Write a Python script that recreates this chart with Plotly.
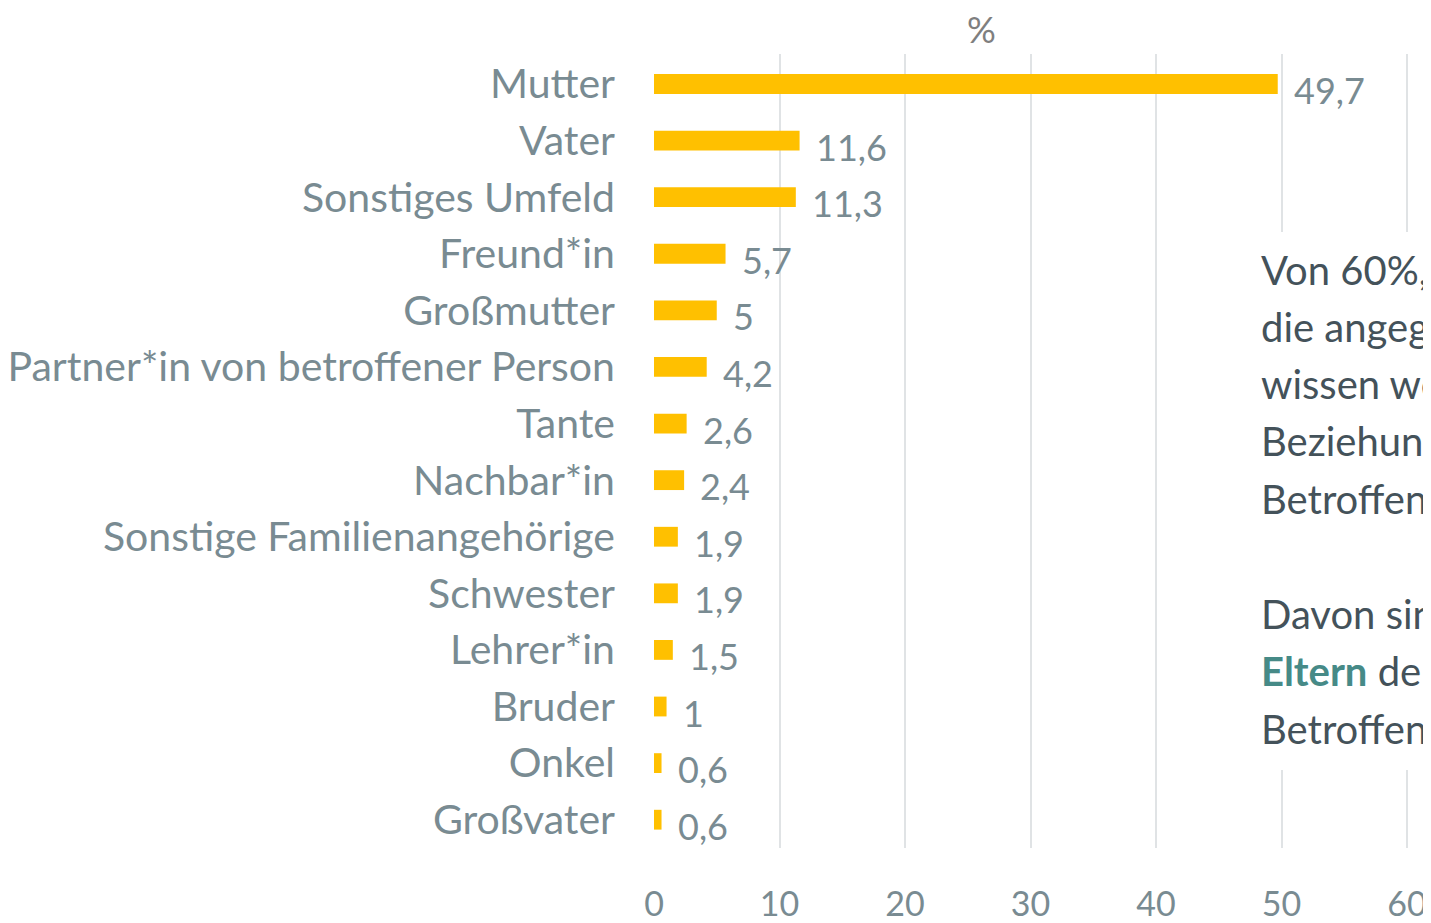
import plotly.graph_objects as go

categories = ["Mutter", "Vater", "Sonstiges Umfeld", "Freund*in", "Großmutter",
              "Partner*in von betroffener Person", "Tante", "Nachbar*in",
              "Sonstige Familienangehörige", "Schwester", "Lehrer*in", "Bruder",
              "Onkel", "Großvater"]
values = [49.7, 11.6, 11.3, 5.7, 5, 4.2, 2.6, 2.4, 1.9, 1.9, 1.5, 1, 0.6, 0.6]
value_labels = ["49,7", "11,6", "11,3", "5,7", "5", "4,2", "2,6", "2,4", "1,9",
                "1,9", "1,5", "1", "0,6", "0,6"]
x_ticks = [0, 10, 20, 30, 40, 50, 60]
note_lines = ["Von 60%, die Angaben machen,", "die angegeben haben, es zu",
              "wissen welche", "Beziehung sie zur", "Betroffenen Person haben:", "",
              "Davon sind 61% die",
              "<span style='color:#468a87'><b>Eltern</b></span> der",
              "Betroffenen Person."]

FONT = "Lato"
LABEL_COLOR = "#798b92"
BAR_COLOR = "#FFC000"

# page offset (body margin 8px)
OFF = 8
W, H = 1431 - OFF, 923 - OFF
PL, PT, PB = 654 - OFF, 54 - OFF, 848 - OFF
PLOT_H = PB - PT

def py(page_y):
    return (PB - (page_y - OFF)) / PLOT_H

def px(page_x):
    return (page_x - OFF - PL) / (W - PL)

fig = go.Figure()
fig.add_trace(go.Bar(
    x=values, y=categories, orientation="h",
    marker=dict(color=BAR_COLOR, line=dict(width=0)),
    hoverinfo="skip",
))

for v, lab, cat in zip(values, value_labels, categories):
    fig.add_annotation(x=v, y=cat, xref="x", yref="y", text=lab, showarrow=False,
                       xanchor="left", yanchor="middle", xshift=14, yshift=-6,
                       font=dict(family=FONT, size=36, color=LABEL_COLOR))

fig.add_annotation(xref="paper", yref="paper", x=px(981), y=py(29),
                   text="%", showarrow=False, xanchor="center", yanchor="middle",
                   font=dict(family=FONT, size=36, color="#7f7f7f"))

# white box behind the note
fig.add_shape(type="rect", xref="paper", yref="paper", x0=px(1250), x1=1.2,
              y0=py(770), y1=py(232), fillcolor="white", line=dict(width=0),
              layer="above")

line_y = [270, 327, 384, 441, 499, 556, 614, 671, 729]
for txt, yy in zip(note_lines, line_y):
    if not txt:
        continue
    fig.add_annotation(xref="paper", yref="paper", x=px(1259), y=py(yy), text=txt,
                       showarrow=False, xanchor="left", yanchor="middle", align="left",
                       font=dict(family=FONT, size=40, color="#44525a"))

fig.update_layout(
    width=W, height=H,
    margin=dict(l=PL, r=0, t=PT, b=H - PB, autoexpand=False),
    paper_bgcolor="white", plot_bgcolor="white",
    bargap=0.65, showlegend=False,
    xaxis=dict(range=[0, (1431 - 654) / 12.55], tickvals=x_ticks,
               ticktext=[str(t) for t in x_ticks],
               showgrid=True, gridcolor="#e0e3e5", gridwidth=2,
               zeroline=False, showline=False, ticks="",
               ticklabelstandoff=33,
               tickfont=dict(family=FONT, size=34, color=LABEL_COLOR)),
    yaxis=dict(categoryorder="array", categoryarray=categories,
               autorange="reversed",
               showgrid=False, zeroline=False, showline=False, ticks="",
               ticklabelstandoff=38,
               tickfont=dict(family=FONT, size=41, color=LABEL_COLOR)),
)

fig.write_html("out.html")
